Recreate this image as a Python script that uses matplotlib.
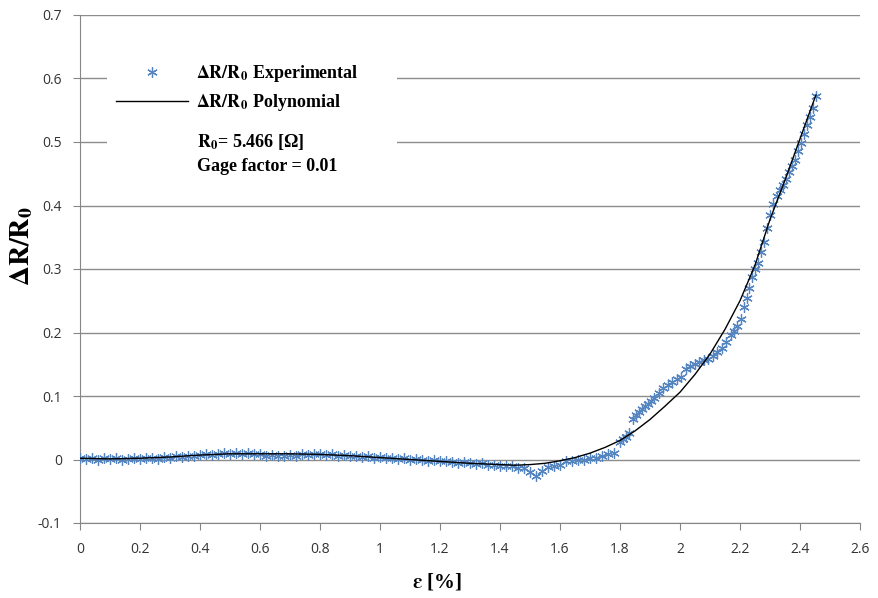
import matplotlib
matplotlib.use("Agg")
import matplotlib.pyplot as plt
from matplotlib.lines import Line2D
from matplotlib.patches import Rectangle

plt.rcParams["mathtext.fontset"] = "stix"

# experimental dR/R0 vs strain (%)
# flat part, step 0.02 from 0 to 1.78 (values in 1e-3)
flat_x = [round(0.02 * i, 2) for i in range(90)]
flat_y_milli = [2, 1, 3, 0, 2, 1, 2, 0, 1, 2, 1,
                2, 3, 1, 4, 3, 5, 4, 6, 5, 7,
                8, 7, 9, 10, 8, 11, 9, 10, 8, 9,
                6, 7, 5, 6, 7, 6, 8, 7, 9, 8,
                7, 8, 6, 7, 5, 6, 4, 5, 3, 4,
                2, 3, 1, 2, 0, 1, -1, -2, -1, -3,
                -3, -4, -5, -4, -6, -7, -6, -8, -9, -10,
                -11, -10, -13, -14, -20, -26, -18, -12, -10, -8,
                -3, -2, -1, 0, 2, 3, 5, 8, 10]
flat_y = [v / 1000 for v in flat_y_milli]

rise_x = [1.80, 1.81, 1.82, 1.83, 1.845, 1.855, 1.865, 1.875, 1.885, 1.895,
          1.905, 1.915, 1.93, 1.945, 1.96, 1.975, 1.99, 2.005, 2.02, 2.035,
          2.05, 2.065, 2.08, 2.095, 2.11, 2.125, 2.14, 2.155, 2.17, 2.18,
          2.19, 2.205, 2.215, 2.222, 2.23, 2.24, 2.25, 2.26, 2.27, 2.28,
          2.29, 2.30, 2.31, 2.325, 2.335, 2.345, 2.355, 2.365, 2.375, 2.385,
          2.395, 2.405, 2.415, 2.425, 2.435, 2.445, 2.453]
rise_y = [0.028, 0.033, 0.036, 0.042, 0.064, 0.070, 0.075, 0.080, 0.084, 0.088,
          0.092, 0.097, 0.104, 0.112, 0.118, 0.122, 0.126, 0.130, 0.142, 0.148,
          0.151, 0.154, 0.157, 0.159, 0.163, 0.170, 0.176, 0.185, 0.196, 0.203,
          0.210, 0.222, 0.240, 0.255, 0.270, 0.287, 0.300, 0.310, 0.326, 0.343,
          0.365, 0.385, 0.403, 0.415, 0.425, 0.433, 0.442, 0.452, 0.462, 0.472,
          0.486, 0.498, 0.512, 0.527, 0.540, 0.553, 0.572]

exp_x = flat_x + rise_x
exp_y = flat_y + rise_y

# polynomial fit curve
poly_x = [0.0, 0.1, 0.2, 0.3, 0.4, 0.5, 0.6, 0.7, 0.8, 0.9, 1.0, 1.1, 1.2, 1.3,
          1.4, 1.45, 1.5, 1.55, 1.6, 1.65, 1.7, 1.75, 1.8, 1.85, 1.9, 1.95, 2.0,
          2.05, 2.1, 2.15, 2.2, 2.25, 2.3, 2.35, 2.4, 2.453]
poly_y = [0.002, 0.001, 0.002, 0.004, 0.007, 0.009, 0.009, 0.009, 0.008, 0.006,
          0.003, 0.0, -0.003, -0.006, -0.008, -0.009, -0.008, -0.006, -0.002, 0.003,
          0.010, 0.019, 0.030, 0.045, 0.063, 0.084, 0.106, 0.134, 0.166, 0.205,
          0.250, 0.306, 0.378, 0.440, 0.505, 0.574]

fig = plt.figure(figsize=(8.79, 5.98), dpi=100)
ax = fig.add_axes([80 / 879, 1 - 523 / 598, 780 / 879, 508 / 598])

blue = "#5585c0"
ax.plot(exp_x, exp_y, linestyle="none", marker=(6, 2, 0), markersize=7.5,
        markeredgewidth=0.9, color=blue, zorder=3)
ax.plot(poly_x, poly_y, color="black", lw=1.0, zorder=4)

ax.set_xlim(0, 2.6)
ax.set_ylim(-0.1, 0.7)
ax.set_xticks([0.2 * i for i in range(14)])
ax.set_xticklabels(["0", "0.2", "0.4", "0.6", "0.8", "1", "1.2", "1.4", "1.6",
                    "1.8", "2", "2.2", "2.4", "2.6"])
ax.set_yticks([-0.1 + 0.1 * i for i in range(9)])
ax.set_yticklabels(["-0.1", "0", "0.1", "0.2", "0.3", "0.4", "0.5", "0.6", "0.7"])
ax.yaxis.grid(True, color="#8c8c8c", lw=1.0)
ax.set_axisbelow(True)
for s in ["top", "right"]:
    ax.spines[s].set_visible(False)
for s in ["left", "bottom"]:
    ax.spines[s].set_color("#868686")
ax.tick_params(direction="out", length=5, color="#868686", labelsize=10,
               labelcolor="#333333")
ax.tick_params(axis="x", pad=9)
ax.tick_params(axis="y", pad=8)
for lab in ax.get_xticklabels() + ax.get_yticklabels():
    lab.set_fontfamily("Open Sans")

ax.set_ylabel(r"$\mathbf{\Delta R/R_0}$", fontsize=20)
ax.yaxis.set_label_coords(-0.058, 0.545)
ax.set_xlabel(r"$\mathbf{\varepsilon}$ [%]", fontsize=15, fontweight="bold",
              family="Liberation Serif")
ax.xaxis.set_label_coords(0.458, -0.095)

# white box behind the legend block (hides the gridlines like the original)
ax.add_patch(Rectangle((0.035, 0.665), 0.371, 0.262, transform=ax.transAxes,
                       facecolor="white", edgecolor="none", zorder=2))

handles = [Line2D([], [], linestyle="none", marker=(6, 2, 0), markersize=7.5,
                  markeredgewidth=0.9, color=blue),
           Line2D([], [], color="black", lw=1.0)]
labels = [r"$\mathbf{\Delta R/R_0}$ Experimental", r"$\mathbf{\Delta R/R_0}$ Polynomial"]
leg = ax.legend(handles, labels, loc="upper left", bbox_to_anchor=(0.03, 0.93),
                frameon=False,
                prop={"family": "Liberation Serif", "weight": "bold", "size": 13},
                handlelength=4.0, handletextpad=0.45, labelspacing=0.45,
                borderpad=0.2)
ax.text(0.1505, 0.77, "$\\mathbf{R_0}$= 5.466 [Ω]\nGage factor = 0.01",
        transform=ax.transAxes, ha="left", va="top", family="Liberation Serif",
        fontweight="bold", fontsize=13, linespacing=1.45, zorder=5)

fig.savefig("out.png", dpi=100)
